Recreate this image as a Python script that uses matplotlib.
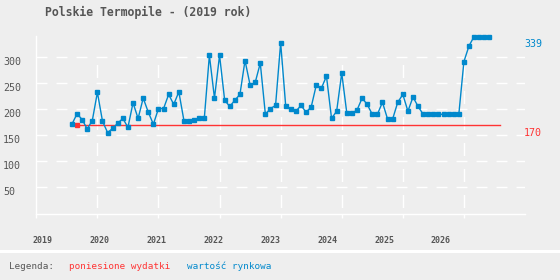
import numpy as np
import matplotlib
matplotlib.use('Agg')
import matplotlib.pyplot as plt

# wartosc rynkowa, monthly from 2019-08
first_month = (2019, 8)
market_value = [171, 191, 180, 162, 178, 232, 177, 155, 163, 173, 182, 165,
                212, 182, 221, 194, 171, 201, 201, 228, 209, 233, 178, 178,
                180, 182, 182, 303, 221, 303, 217, 205, 217, 228, 293, 246,
                251, 288, 190, 201, 207, 327, 205, 201, 196, 207, 194, 204,
                246, 240, 263, 182, 196, 269, 192, 192, 198, 221, 209, 190,
                190, 213, 181, 181, 213, 228, 196, 223, 205, 190, 190, 190,
                190, 190, 190, 190, 190, 291, 321, 339, 339, 339, 339]

# poniesione wydatki
cost_months = [(2019, 9), (2026, 8)]
costs = [170, 170]

y_ticks = [50, 100, 150, 200, 250, 300]
years = [2019, 2020, 2021, 2022, 2023, 2024, 2025, 2026]
year_labels = ['2019', '2020', '2021', '2022', '2023', '2024', '2025', '2026']
# the labels sit a bit off the year lines in the original
year_label_pos = [2019.105, 2020.039, 2020.967, 2021.902, 2022.836, 2023.766, 2024.70, 2025.62]

BLUE = '#0088cc'
RED = '#ff3333'
GREY = '#555555'
BG = '#eeeeee'

plt.rcParams['font.family'] = 'DejaVu Sans Mono'
plt.rcParams['lines.scale_dashes'] = False


def to_year(ym):
    return ym[0] + (ym[1] - 1) / 12


x = to_year(first_month) + np.arange(len(market_value)) / 12
cost_x = [to_year(c) for c in cost_months]

fig = plt.figure(figsize=(5.6, 2.8), dpi=100, facecolor=BG)
ax = fig.add_axes([36.3 / 560, 1 - 213.5 / 280, 488.7 / 560, 177.5 / 280])
ax.set_facecolor(BG)
ax.set_axisbelow(True)

ax.plot(cost_x, costs, color=RED, lw=1.0, marker='s', ms=2.4, markevery=[0],
        zorder=2, clip_on=False)
ax.plot(x, market_value, color=BLUE, lw=1.0, marker='s', ms=2.4,
        zorder=3, clip_on=False)

ax.set_xlim(2019, 2027)
ax.set_ylim(0, 340)

for s in ['top', 'right']:
    ax.spines[s].set_visible(False)
for s in ['left', 'bottom']:
    ax.spines[s].set_color('white')
    ax.spines[s].set_linewidth(1)

ax.set_yticks(y_ticks, labels=[str(v) for v in y_ticks])
ax.yaxis.grid(True, color='white', lw=1, linestyle=(0, (7.9, 6.5)))
ax.tick_params(axis='y', length=0, pad=24, labelsize=7.2, labelcolor=GREY)
for t in ax.get_yticklabels():
    t.set_ha('left')
    t.set_va('top')

ax.set_xticks(years, labels=[''] * len(years))
ax.tick_params(axis='x', which='major', length=3, width=1, color='white', direction='out')
ax.set_xticks(year_label_pos, labels=year_labels, minor=True)
ax.tick_params(axis='x', which='minor', length=0, pad=16, labelsize=6, labelcolor=GREY)
for t in ax.get_xticklabels(minor=True):
    t.set_fontweight('bold')

for yr in years[1:]:
    ax.axvline(yr, ymin=0, ymax=0.848, color='white', lw=1,
               linestyle=(14.04, (9.36, 9.36)), zorder=1)

ax.annotate(str(market_value[-1]), xy=(524 / 560, market_value[-1]),
            xycoords=('figure fraction', 'data'),
            xytext=(0, -2), textcoords='offset points', ha='left', va='top',
            fontsize=7.2, color=BLUE, annotation_clip=False)
ax.annotate(str(costs[-1]), xy=(524 / 560, costs[-1]),
            xycoords=('figure fraction', 'data'),
            xytext=(0, -2), textcoords='offset points', ha='left', va='top',
            fontsize=7.2, color=RED, annotation_clip=False)

fig.text(45 / 560, 1 - 12 / 280, 'Polskie Termopile - (2019 rok)', ha='left', va='center',
         fontsize=8.3, fontweight='bold', color=GREY)

fig.add_artist(plt.Rectangle((0, 1 - 253.3 / 280), 1, 3.3 / 280, transform=fig.transFigure,
                             color='white', lw=0))

fig.text(8.7 / 560, 1 - 266.7 / 280, 'Legenda:', ha='left', va='center', fontsize=6.7, color=GREY)
fig.text(69.3 / 560, 1 - 266.7 / 280, 'poniesione wydatki', ha='left', va='center', fontsize=6.7, color=RED)
fig.text(186.7 / 560, 1 - 266.7 / 280, 'wartość rynkowa', ha='left', va='center', fontsize=6.7, color=BLUE)

fig.savefig('out.png', dpi=100, facecolor=BG)
